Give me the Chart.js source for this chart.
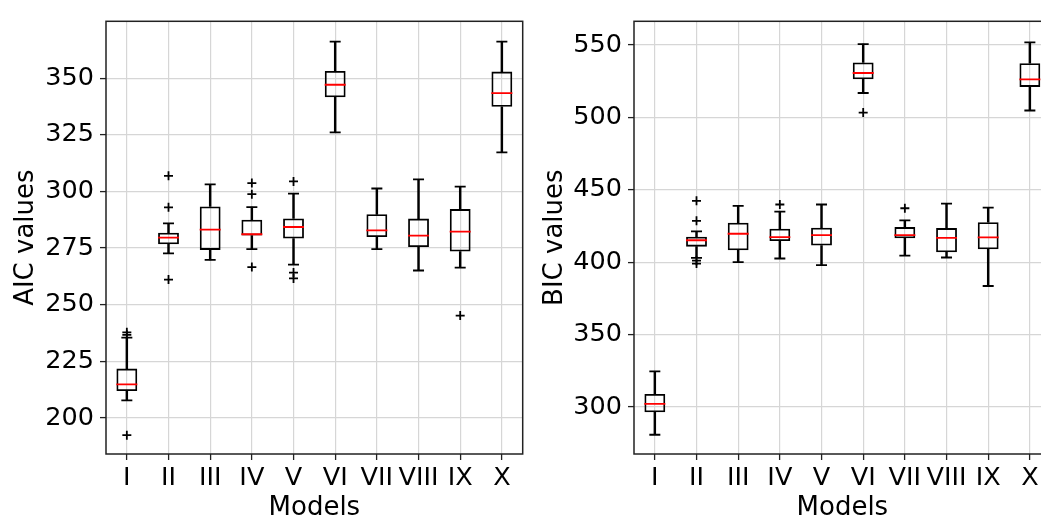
<!DOCTYPE html>
<html>
<head>
<meta charset="utf-8">
<script src="https://cdn.jsdelivr.net/npm/chart.js@4.4.0/dist/chart.umd.min.js"></script>
<style>
  html, body { margin: 0; padding: 0; background: #fff; overflow: hidden; width: 1041px; height: 518px; }
  canvas { position: absolute; top: 0; }
  #aic { left: 0; }
  #bic { left: 535px; }
</style>
</head>
<body>
<canvas id="aic" width="535" height="540"></canvas>
<canvas id="bic" width="528" height="540"></canvas>
<script>
const models = ['I', 'II', 'III', 'IV', 'V', 'VI', 'VII', 'VIII', 'IX', 'X'];

// AIC box stats (whisker ends, quartiles, median) and fliers
const aicLow  = [207.8, 272.7, 269.8, 274.5, 267.7, 326.1, 274.5, 265.1, 266.4, 317.2];
const aicQ1   = [211.9, 276.7, 274.2, 280.5, 279.2, 341.6, 279.9, 275.5, 273.5, 337.4];
const aicMed  = [214.8, 279.6, 283.1, 281.1, 284.3, 347.1, 282.8, 280.5, 282.3, 343.4];
const aicQ3   = [221.8, 281.8, 293.4, 287.5, 288.1, 353.2, 289.9, 288.0, 292.2, 352.9];
const aicHigh = [235.5, 285.9, 303.1, 293.1, 299.0, 366.1, 301.3, 305.3, 302.1, 366.1];
const aicOut  = [[192.4, 236.7, 237.8], [261.1, 293.0, 306.9], [], [266.6, 298.8, 303.7],
                 [261.6, 264.2, 304.4], [], [], [], [245.2], []];
const aicTicks = [200, 225, 250, 275, 300, 325, 350];

// BIC
const bicLow  = [280.8, 402.9, 400.0, 402.5, 397.9, 516.8, 404.5, 403.2, 383.5, 504.7];
const bicQ1   = [296.3, 410.7, 408.2, 414.6, 411.4, 526.2, 416.4, 406.8, 408.9, 521.0];
const bicMed  = [302.1, 415.1, 419.6, 417.3, 418.7, 530.6, 418.7, 416.7, 417.1, 526.2];
const bicQ3   = [308.9, 417.6, 427.2, 423.1, 423.7, 537.9, 424.2, 423.5, 427.6, 537.4];
const bicHigh = [324.5, 421.2, 438.8, 434.9, 439.8, 550.5, 428.8, 440.4, 437.7, 551.8];
const bicOut  = [[], [399.0, 401.0, 428.5, 442.3], [], [439.8], [], [503.3], [437.2], [], [], []];
const bicTicks = [300, 350, 400, 450, 500, 550];

const FONT = 'DejaVu Sans';
const LW = 1.8;

// matplotlib style frame on all four sides
const framePlugin = {
  id: 'frame',
  afterDraw(chart) {
    const a = chart.chartArea, ctx = chart.ctx;
    ctx.save();
    ctx.strokeStyle = '#222';
    ctx.lineWidth = 1.5;
    ctx.strokeRect(a.left, a.top, a.right - a.left, a.bottom - a.top);
    ctx.restore();
  }
};

function boxChart(id, title, low, q1, med, q3, high, out, ticks, yMin, yMax, axisW, titlePad) {
  const fliers = [];
  out.forEach((vals, i) => vals.forEach(v => fliers.push({ x: models[i], y: v })));

  const pointSet = (data, color, style, r, order) => ({
    type: 'line', data: data, showLine: false, order: order,
    pointStyle: style, radius: r, borderColor: color, backgroundColor: color,
    borderWidth: LW, hoverRadius: r
  });
  const whisker = (data) => ({
    type: 'bar', data: data, grouped: false, order: 3,
    backgroundColor: '#000', borderWidth: 0, barThickness: LW
  });

  return new Chart(document.getElementById(id), {
    type: 'bar',
    data: {
      labels: models,
      datasets: [
        pointSet(med, '#ff0000', 'line', 10.5, 0),
        {
          type: 'bar', data: q1.map((v, i) => [v, q3[i]]), grouped: false, order: 1,
          backgroundColor: 'rgba(0,0,0,0)', borderColor: '#000', borderWidth: LW,
          borderSkipped: false, barPercentage: 0.5, categoryPercentage: 1
        },
        whisker(low.map((v, i) => [v, q1[i]])),
        whisker(q3.map((v, i) => [v, high[i]])),
        pointSet(low, '#000', 'line', 5.5, 2),
        pointSet(high, '#000', 'line', 5.5, 2),
        pointSet(fliers, '#000', 'cross', 4.5, 2)
      ]
    },
    options: {
      responsive: false,
      animation: false,
      layout: { padding: { top: 19, right: 10, left: 0, bottom: 0 } },
      plugins: { legend: { display: false }, tooltip: { enabled: false } },
      scales: {
        x: {
          type: 'category',
          offset: true,
          grid: { offset: false, color: '#d6d6d6', lineWidth: 1.2, tickColor: '#222', tickLength: 6, tickWidth: 1.3 },
          border: { display: false },
          ticks: { color: '#000', font: { family: FONT, size: 25.5 }, padding: 3, maxRotation: 0, autoSkip: false },
          title: { display: true, text: 'Models', color: '#000', font: { family: FONT, size: 26 }, padding: { top: 0, bottom: 16 } },
          afterFit: s => { s.height = 86; }
        },
        y: {
          min: yMin, max: yMax,
          grid: { color: '#d6d6d6', lineWidth: 1.2, tickColor: '#222', tickLength: 6, tickWidth: 1.3 },
          border: { display: false },
          ticks: { color: '#000', font: { family: FONT, size: 25.5 }, padding: 6 },
          afterBuildTicks: s => { s.ticks = ticks.map(v => ({ value: v })); },
          title: { display: true, text: title, color: '#000', font: { family: FONT, size: 26 }, padding: { top: titlePad, bottom: 0 } },
          afterFit: s => { s.width = axisW; }
        }
      }
    },
    plugins: [framePlugin]
  });
}

boxChart('aic', 'AIC values', aicLow, aicQ1, aicMed, aicQ3, aicHigh, aicOut, aicTicks, 184.1, 375.1, 106, 11);
boxChart('bic', 'BIC values', bicLow, bicQ1, bicMed, bicQ3, bicHigh, bicOut, bicTicks, 267.5, 566.3, 99, 5);
</script>
</body>
</html>
